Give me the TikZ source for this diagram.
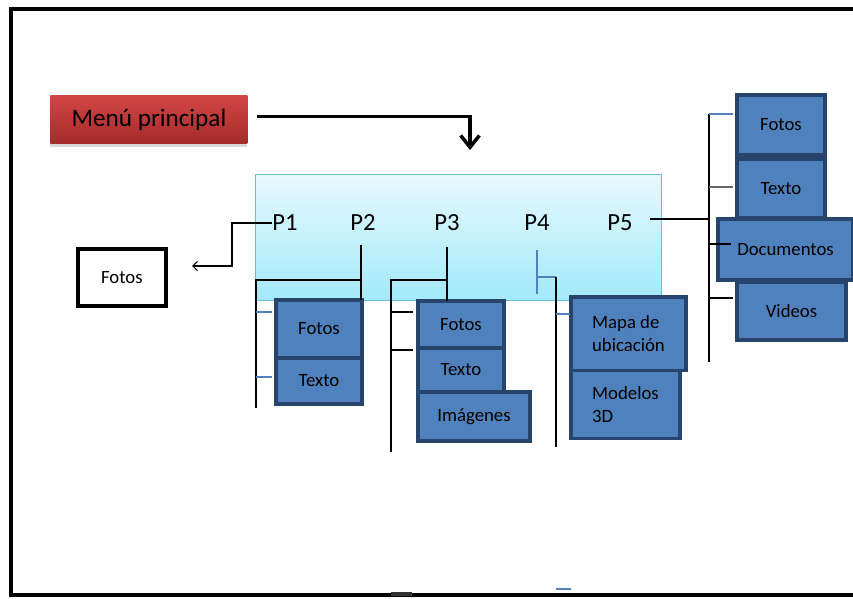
\documentclass[tikz,border=0pt]{standalone}
\usepackage{fontspec}
\setmainfont{Carlito}
\usetikzlibrary{positioning, calc, arrows.meta, shadows}
\definecolor{boxblue}{HTML}{4F81BD}
\definecolor{boxline}{HTML}{27456C}
\definecolor{paneltop}{HTML}{E6F9FE}
\definecolor{panelbot}{HTML}{A3E9FA}
\definecolor{panelline}{HTML}{67BFD6}
\definecolor{menutop}{HTML}{D44545}
\definecolor{menubot}{HTML}{A32B2B}

\begin{document}
\begin{tikzpicture}[x=0.03cm, y=-0.03cm, thick]
    % Define block styles
    \tikzstyle{block} = [rectangle, draw=boxline, line width=3pt, outer sep=0pt, fill=boxblue, text=black, font=\fontsize{16}{19.5}\selectfont, anchor=north west]
    \tikzstyle{plabel} = [inner sep=0pt, font=\fontsize{21}{25}\selectfont]
    \tikzstyle{tree} = [draw=black, line width=1.2pt]
    \tikzstyle{bluetree} = [draw=boxblue, line width=1pt]

    \clip (0,0) rectangle (853,599);
    \draw[line width=2.6pt] (11,9) rectangle (880,595);

    % Place nodes
    \node [rectangle, top color=menutop, bottom color=menubot, minimum width=5.91cm, minimum height=1.44cm, anchor=north west, font=\fontsize{21.5}{25}\selectfont, drop shadow={shadow xshift=0pt, shadow yshift=-3pt, opacity=0.3}] (menu) at (50,95) {Menú principal};
    \node [rectangle, draw=panelline, line width=0.8pt, top color=paneltop, bottom color=panelbot, minimum width=12.18cm, minimum height=3.78cm, anchor=north west] (panel) at (255,174) {};
    \node [rectangle, draw, line width=3.2pt, minimum width=2.64cm, minimum height=1.71cm, anchor=north west, font=\fontsize{16}{19}\selectfont] (fotosleft) at (76,247) {Fotos};

    \node [plabel] (p1) at (285,223) {P1};
    \node [plabel] (p2) at (363,223) {P2};
    \node [plabel] (p3) at (447,223) {P3};
    \node [plabel] (p4) at (537,223) {P4};
    \node [plabel] (p5) at (620,223) {P5};

    \node [block, minimum width=2.58cm, minimum height=1.74cm] (p2fotos) at (276,300) {Fotos};
    \node [block, minimum width=2.58cm, minimum height=1.38cm, below=0pt of p2fotos] (p2texto) {Texto};

    \node [block, minimum width=2.58cm, minimum height=1.41cm] (p3fotos) at (418,301) {Fotos};
    \node [block, minimum width=2.58cm, minimum height=1.32cm, below=0pt of p3fotos] (p3texto) {Texto};
    \node [block, minimum width=3.36cm, minimum height=1.47cm] (p3imagenes) at (p3texto.south west) {Imágenes};

    \node [block, minimum width=3.45cm, minimum height=2.2cm, align=left] (p4mapa) at (571,297) {Mapa de\\ubicación};
    \node [block, minimum width=3.27cm, minimum height=2.05cm, align=left] (p4modelos) at (p4mapa.south west) {Modelos\\3D};

    \node [block, minimum width=2.64cm, minimum height=1.8cm] (p5fotos) at (737,95) {Fotos};
    \node [block, minimum width=2.64cm, minimum height=1.77cm] (p5texto) at (737,159) {Texto};
    \node [block, minimum width=4.05cm, minimum height=1.83cm] (p5docs) at (718,219) {Documentos};
    \node [block, minimum width=3.27cm, minimum height=1.74cm] (p5videos) at (737,282) {Videos};

    % Free ends of the connectors
    \coordinate (menuarrow) at (470,150);
    \coordinate (p1bend) at (232,244);
    \coordinate (p1end) at (192,266);
    \coordinate (p2top) at (361,245);
    \coordinate (p2bus) at (256,280);
    \coordinate (p2end) at (256,408);
    \coordinate (p3top) at (447,247);
    \coordinate (p3bus) at (391,280);
    \coordinate (p3end) at (391,452);
    \coordinate (p4top) at (537,250);
    \coordinate (p4bus) at (556,277);
    \coordinate (p4end) at (556,447);
    \coordinate (p5bus) at (709,219);

    % Draw connections
    \draw [line width=3pt, -{Straight Barb[length=10pt, width=16pt]}] ([xshift=0.27cm, yshift=0.09cm]menu.east) -| (menuarrow);
    \draw [tree, line width=1pt, -{Straight Barb[length=4pt, width=8pt]}] (p1.west) -| (p1bend) |- (p1end);

    \draw [tree] (p2top) -- (p2top |- p2fotos.north);
    \draw [tree] (p2top |- p2bus) -- (p2bus) -- (p2end);
    \draw [bluetree] (p2bus |- 0,312) -- ++(16,0);
    \draw [bluetree] (p2bus |- 0,377) -- ++(16,0);

    \draw [tree] (p3top) -- (p3top |- p3fotos.north);
    \draw [tree] (p3top |- p3bus) -- (p3bus) -- (p3end);
    \draw [tree] (p3bus |- 0,312) -- ++(22,0);
    \draw [tree] (p3bus |- 0,350) -- ++(22,0);

    \draw [bluetree] (p4top) -- ++(0,44);
    \draw [bluetree] (p4top |- p4bus) -- (p4bus);
    \draw [tree] (p4bus) -- (p4end);
    \draw [bluetree] (p4bus |- 0,314) -- ++(14,0);

    \draw [tree] ([xshift=0.5cm]p5.east |- p5bus) -- (p5bus);
    \draw [tree] (p5bus |- 0,114) -- (p5bus |- 0,362);
    \draw [bluetree] (p5bus |- 0,114) -- ++(24,0);
    \draw [tree, draw=black!60] (p5bus |- 0,187) -- ++(24,0);
    \draw [tree] (p5bus |- 0,244) -- ++(22,0);
    \draw [tree] (p5bus |- 0,298) -- ++(24,0);

    % Stray marks
    \draw [line width=3.5pt, black!80] (391,594) -- (412,594);
    \draw [bluetree] (556,589) -- (571,589);
\end{tikzpicture}
\end{document}
